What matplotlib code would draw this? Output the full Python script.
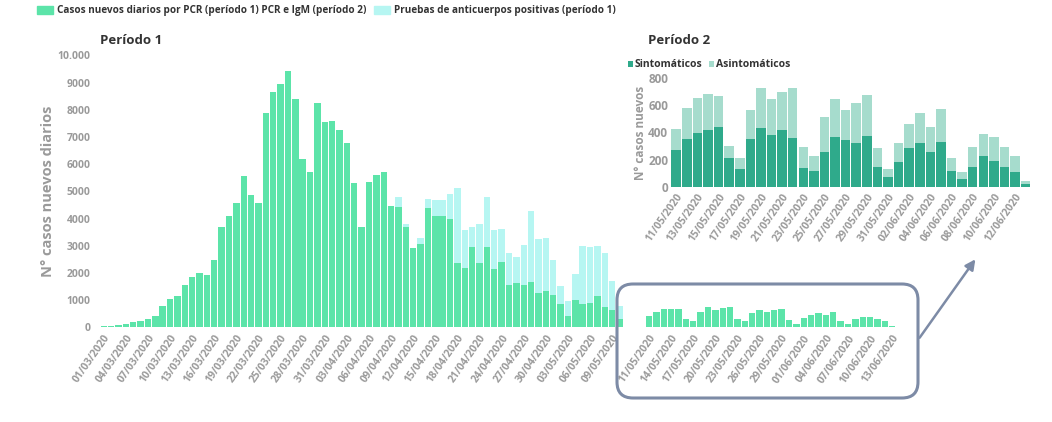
import matplotlib
matplotlib.use("Agg")
import matplotlib.pyplot as plt
import matplotlib.patches as patches
import numpy as np
import pandas as pd

plt.rcParams["font.family"] = ["Open Sans", "DejaVu Sans"]

GREEN = "#5ce4a9"
CYAN = "#b6f6f2"
DARK = "#2faa8b"
LIGHT = "#a6dccd"
GREY = "#9a9a9a"
TXT = "#333333"
FRAME = "#7d8ba6"

# Period 1: 01/03/2020 - 10/05/2020
dates_p1 = pd.date_range("2020-03-01", "2020-05-10").strftime("%d/%m/%Y").tolist()
pcr_p1 = [40, 60, 80, 110, 180, 250, 320, 400, 780,
          1050, 1150, 1570, 1840, 1980, 1920, 2460, 3700, 4080, 4560, 5560,
          4870, 4580, 7880, 8650, 8960, 9420, 8390, 6180, 5700, 8240,
          7540, 7600, 7250, 6780, 5320, 3670, 5350, 5590, 5700, 4450,
          4420, 3680, 2900, 3080, 4370, 4110, 4090, 4000, 2350, 2170,
          2940, 2350, 2940, 2150, 2410, 1550, 1620, 1550, 1660, 1250,
          1320, 1190, 860, 420, 1000, 860, 880, 1140, 760, 640, 290]
anticuerpos_p1 = [0] * 40 + [380, 110, 0, 210, 350, 570, 590, 900, 2770, 1400,
                             730, 1440, 1860, 1420, 1190, 1170, 950, 1460, 2600, 1980,
                             1980, 1280, 670, 550, 960, 2140, 2060, 1860, 1960, 1050, 510]

# Period 2: 11/05/2020 - 13/06/2020
dates_p2 = pd.date_range("2020-05-11", "2020-06-13").strftime("%d/%m/%Y").tolist()
sintomaticos = [270, 350, 395, 415, 440, 210, 130, 355, 430, 380, 420, 360, 140, 120,
                260, 365, 345, 320, 375, 145, 70, 180, 285, 320, 260, 330, 115, 55,
                150, 225, 190, 145, 110, 25]
asintomaticos = [155, 230, 260, 265, 225, 90, 85, 210, 300, 265, 280, 370, 155, 110,
                 255, 280, 220, 300, 300, 140, 65, 145, 175, 220, 180, 240, 100, 55,
                 145, 165, 180, 150, 115, 20]

main_yticks = [0, 1000, 2000, 3000, 4000, 5000, 6000, 7000, 8000, 9000, 10000]
main_ylabels = ["0", "1000", "2000", "3000", "4000", "5000", "6000", "7000", "8000", "9000", "10.000"]
inset_yticks = [0, 200, 400, 600, 800]

fig = plt.figure(figsize=(10.52, 4.22), dpi=100)

# ---- main chart
ax = fig.add_axes([0.0916, 0.2244, 0.767, 0.6445])
x1 = np.arange(len(dates_p1))
gap = 3
x2 = np.arange(len(dates_p2)) + len(dates_p1) + gap
tot_p2 = np.array(sintomaticos) + np.array(asintomaticos)

ax.bar(x1, pcr_p1, width=0.87, color=GREEN, linewidth=0)
ax.bar(x1, anticuerpos_p1, bottom=pcr_p1, width=0.87, color=CYAN, linewidth=0)
ax.bar(x2, tot_p2, width=0.87, color=GREEN, linewidth=0)

ax.set_xlim(-1, x2[-1] + 1.5)
ax.set_ylim(0, 10000)
ax.set_yticks(main_yticks)
ax.set_yticklabels(main_ylabels)
xt = list(x1[::3]) + list(x2[::3])
xl = dates_p1[::3] + dates_p2[::3]
ax.set_xticks(xt)
ax.set_xticklabels(xl, rotation=55, ha="right", rotation_mode="anchor")
ax.tick_params(length=0, labelsize=7.5, labelcolor=GREY, pad=4)
for lab in ax.get_xticklabels() + ax.get_yticklabels():
    lab.set_fontweight("bold")
ax.set_ylabel("N° casos nuevos diarios", fontsize=10.5, fontweight="bold",
              color=GREY, labelpad=2)
for s in ax.spines.values():
    s.set_visible(False)
ax.text(0.005, 1.03, "Período 1", transform=ax.transAxes, fontsize=9.5,
        fontweight="bold", color=TXT, ha="left", va="bottom")

# ---- inset (period 2)
ax2 = fig.add_axes([0.6378, 0.5569, 0.3422, 0.2583])
xi = np.arange(len(dates_p2))
ax2.bar(xi, sintomaticos, width=0.9, color=DARK, linewidth=0, label="Sintomáticos")
ax2.bar(xi, asintomaticos, bottom=sintomaticos, width=0.9, color=LIGHT,
        linewidth=0, label="Asintomáticos")
ax2.set_xlim(-0.5, len(dates_p2) - 0.5)
ax2.set_ylim(0, 800)
ax2.set_yticks(inset_yticks)
ax2.set_xticks(xi[::2])
ax2.set_xticklabels(dates_p2[::2], rotation=55, ha="right", rotation_mode="anchor")
ax2.tick_params(axis="x", length=0, labelsize=7.5, labelcolor=GREY, pad=3)
ax2.tick_params(axis="y", length=0, labelsize=8.5, labelcolor=GREY, pad=2)
for lab in ax2.get_xticklabels() + ax2.get_yticklabels():
    lab.set_fontweight("bold")
ax2.set_ylabel("N° casos nuevos", fontsize=8.5, fontweight="bold", color=GREY, labelpad=1)
for s in ax2.spines.values():
    s.set_visible(False)
ax2.legend(loc="lower left", bbox_to_anchor=(-0.12, 1.07), ncol=2, frameon=False,
           handlelength=0.5, handleheight=0.5, handletextpad=0.2, columnspacing=0.6,
           borderpad=0, borderaxespad=0,
           prop={"size": 7.5, "weight": "bold"}, labelcolor=TXT)
fig.text(648 / 1052, 1 - 41 / 422, "Período 2", fontsize=9.5, fontweight="bold",
         color=TXT, ha="left", va="center")

# ---- top legend
handles = [patches.Patch(color=GREEN), patches.Patch(color=CYAN)]
labels = ["Casos nuevos diarios por PCR (período 1) PCR e IgM (período 2)",
          "Pruebas de anticuerpos positivas (período 1)"]
fig.legend(handles, labels, loc="center left", bbox_to_anchor=(32 / 1052, 1 - 11 / 422),
           ncol=2, frameon=False, handlelength=1.6, handleheight=0.8, handletextpad=0.4,
           columnspacing=0.8, borderpad=0, prop={"size": 7.2, "weight": "bold"},
           labelcolor=TXT)

# ---- frame around period 2 bars + arrow to inset (pixel overlay)
ov = fig.add_axes([0, 0, 1, 1], facecolor="none")
ov.set_xlim(0, 1052)
ov.set_ylim(422, 0)
ov.axis("off")
ov.add_patch(patches.FancyBboxPatch((617, 284), 301, 114,
                                    boxstyle="round,pad=0,rounding_size=16",
                                    facecolor="none", edgecolor=FRAME, linewidth=2.2))
ov.annotate("", xy=(977, 257), xytext=(918, 340),
            arrowprops=dict(arrowstyle="-|>,head_length=0.6,head_width=0.3",
                            color=FRAME, linewidth=1.8))

fig.savefig("out.png", dpi=100, facecolor="white")
